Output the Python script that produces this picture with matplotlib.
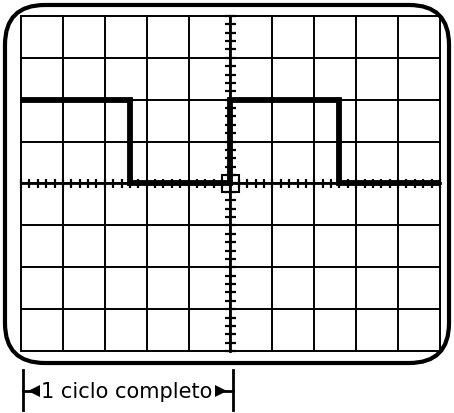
import matplotlib
matplotlib.use("Agg")
import matplotlib.pyplot as plt
from matplotlib.patches import FancyBboxPatch, Rectangle
import numpy as np

# screen in divisions, origin at the centre
n_x_div = 10
n_y_div = 8

# square wave (x in divisions, y in divisions)
wave_x = [-5, -2.4, -2.4, 0, 0, 2.6, 2.6, 5]
wave_y = [2, 2, 0, 0, 2, 2, 0, 0]

# one cycle marker
cycle_start = -4.95
cycle_end = 0.05
cycle_label = "1 ciclo completo"

fig = plt.figure(figsize=(4.54, 4.13), dpi=100)
ax = fig.add_axes([0, 0, 1, 1])
ax.set_xlim(-5.501, 5.334)
ax.set_ylim(-5.477, 4.379)
ax.axis("off")

# outer rounded frame of the screen
frame = FancyBboxPatch((-5.382 + 0.95, -4.284 + 0.95), 10.597 - 1.9, 8.544 - 1.9,
                       boxstyle="round,pad=0.95", fc="none", ec="black", lw=3)
ax.add_patch(frame)

# grid
for gx in range(-n_x_div // 2, n_x_div // 2 + 1):
    ax.plot([gx, gx], [-4, 4], color="black", lw=1.4)
for gy in range(-n_y_div // 2, n_y_div // 2 + 1):
    ax.plot([-5, 5], [gy, gy], color="black", lw=1.4)

# centre axes a bit heavier, with minor ticks
ax.plot([0, 0], [-4, 4], color="black", lw=2)
ax.plot([-5, 5], [0, 0], color="black", lw=2)
tx = np.arange(-5, 5.01, 0.2)
ax.vlines(tx, -0.11, 0.11, color="black", lw=1.6)
ty = np.arange(-4, 4.01, 0.2)
ax.hlines(ty, -0.14, 0.14, color="black", lw=1.6)
ax.add_patch(Rectangle((-0.21, -0.21), 0.42, 0.42, fc="none", ec="black", lw=1.5))

# the signal
ax.plot(wave_x, wave_y, color="black", lw=4.2, solid_joinstyle="miter",
        solid_capstyle="butt")

# "1 ciclo completo" marker
ax.plot([cycle_start, cycle_start], [-4.45, -5.4], color="black", lw=2)
ax.plot([cycle_end, cycle_end], [-4.45, -5.4], color="black", lw=2)
ax.plot([cycle_start, cycle_start + 0.3], [-4.95, -4.95], color="black", lw=2)
ax.plot([cycle_end - 0.3, cycle_end], [-4.95, -4.95], color="black", lw=2)
ax.plot(cycle_start + 0.27, -4.95, marker="<", color="black", ms=9, mew=0)
ax.plot(cycle_end - 0.27, -4.95, marker=">", color="black", ms=9, mew=0)
ax.text((cycle_start + cycle_end) / 2 - 0.02, -5.12, cycle_label, ha="center",
        va="baseline", fontsize=15, family="DejaVu Sans")

fig.savefig("out.png", dpi=100)
